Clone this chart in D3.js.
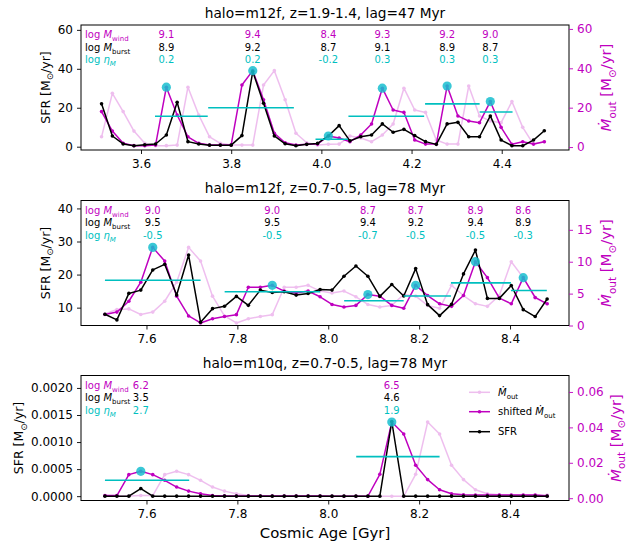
<!DOCTYPE html>
<html>
<head>
<meta charset="utf-8">
<script src="https://cdn.jsdelivr.net/npm/d3@7"></script>
<style>
  body { margin: 0; background: #fff; }
  text { font-family: "DejaVu Sans", sans-serif; }
</style>
</head>
<body>
<svg id="chart" width="627" height="547"></svg>
<script>
// ---------- snapshot time grids (Gyr) ----------
const tStartA = 3.5125, tStepA = 0.02395;   // z = 1.9-1.4
const tStartB = 7.5086, tStepB = 0.0263;    // z = 0.7-0.5
const lagStepsA = 2;                        // 47 Myr
const lagStepsB = 3;                        // 78 Myr

// ---------- halo m12f, z = 1.9-1.4 ----------
const sfrA = [22.0, 5.5, 1.4, 0.5, 1.0, 1.4, 6.0, 22.8, 2.6, 1.4,
              0.8, 0.8, 0.8, 5.7, 38.6, 22.3, 5.5, 1.5, 0.5, 1.2,
              1.7, 5.5, 10.8, 3.0, 5.1, 6.0, 11.7, 7.4, 8.9, 5.7,
              2.6, 1.2, 11.7, 12.5, 5.1, 5.1, 15.8, 3.4, 0.5, 0.5,
              3.4, 8.2];
// outflow rate per snapshot (the last two only enter the shifted curve)
const moutA = [5.2, 27.3,
              18.0, 8.1, 1.9, 0.7, 0.7, 1.0, 30.4, 16.3, 5.2, 1.9,
              1.0, 1.0, 1.0, 31.5, 38.8, 24.0, 7.0, 2.2, 1.0, 1.4,
              1.5, 5.6, 4.6, 2.7, 6.1, 11.7, 29.9, 18.8, 17.6, 3.6,
              1.5, 1.5, 31.0, 15.8, 13.2, 12.4, 23.1, 10.0, 1.4, 2.7,
              1.5, 2.7];
const peaksA = [6, 14, 21, 26, 32, 36];
const windA  = [9.1, 9.4, 8.4, 9.3, 9.2, 9.0];
const burstA = [8.9, 9.2, 8.7, 9.1, 8.9, 8.7];
const etaA   = [0.2, 0.2, -0.2, 0.3, 0.3, 0.3];
const spanStartA = [3.631, 3.749, 3.987, 4.060, 4.230, 4.351];
const spanEndA   = [3.748, 3.939, 4.059, 4.228, 4.351, 4.424];
const spanLevelA = [15.6, 20.0, 3.8, 15.6, 22.0, 17.8];

// ---------- halo m12f, z = 0.7-0.5 ----------
const sfrB = [8.0, 6.3, 14.3, 15.3, 21.4, 23.1, 13.8, 25.9, 5.6, 9.7,
              10.4, 13.4, 10.7, 15.3, 14.6, 14.8, 13.8, 14.3, 15.5, 15.3,
              19.5, 22.6, 19.5, 13.4, 17.0, 13.5, 21.8, 10.9, 7.6, 11.0,
              20.2, 27.4, 12.8, 12.8, 16.7, 9.4, 7.3, 12.6];
const moutB = [1.8, 2.5, 2.6,
              1.73, 2.1, 3.8, 6.8, 12.25, 10.1, 4.6, 1.5, 0.4, 1.06,
              1.4, 1.7, 6.0, 6.0, 6.3, 5.4, 5.1, 5.4, 4.5, 3.3,
              2.9, 3.15, 4.85, 4.6, 3.15, 2.7, 6.3, 4.7, 3.4, 3.0,
              4.7, 10.0, 7.5, 4.3, 3.4, 7.5, 4.4, 3.4];
const peaksB = [4, 14, 22, 26, 31, 35];
const windB  = [9.0, 9.0, 8.7, 8.7, 8.9, 8.6];
const burstB = [9.5, 9.5, 9.4, 9.2, 9.4, 8.9];
const etaB   = [-0.5, -0.5, -0.7, -0.5, -0.5, -0.3];
const spanStartB = [7.5086, 7.772, 8.035, 8.166, 8.270, 8.402];
const spanEndB   = [7.719, 7.982, 8.166, 8.270, 8.402, 8.481];
const spanLevelB = [18.3, 14.8, 12.1, 13.5, 17.5, 15.2];

// ---------- halo m10q, z = 0.7-0.5 ----------
const sfrC = [0, 0, 0, 0.00014, 0, 0, 0, 0, 0, 0,
              0, 0, 0, 0, 0, 0, 0, 0, 0, 0,
              0, 0, 0, 0, 0.00138, 0, 0, 0, 0, 0,
              0, 0, 0, 0, 0, 0, 0, 0];
const moutC = [0.0012, 0.0012, 0.0012,
              0.0015, 0.0015, 0.0133, 0.0152, 0.0133, 0.0101, 0.0063, 0.0040, 0.0025, 0.0015,
              0.0013, 0.0012, 0.0012, 0.0012, 0.0012, 0.0012, 0.0012, 0.0012, 0.0012, 0.0011,
              0.0011, 0.0011, 0.0011, 0.0135, 0.0430, 0.0363, 0.0186, 0.0105, 0.0048, 0.0025,
              0.0019, 0.0018, 0.0018, 0.0018, 0.0018, 0.0018, 0.0018, 0.0012];
const peaksC = [3, 24];
const windC  = [6.2, 6.5];
const burstC = [3.5, 4.6];
const etaC   = [2.7, 1.9];
const spanStartC = [7.5086, 8.0615];
const spanEndC   = [7.694, 8.245];
const spanLevelC = [0.000294, 0.00073];

// ---------- axes: limits and ticks ----------
const xLimA = [3.4669, 4.5492], xLimB = [7.4559, 8.5298];
const xTicksA = [3.6, 3.8, 4.0, 4.2, 4.4];
const xTicksB = [7.6, 7.8, 8.0, 8.2, 8.4];
const sfrLimA = [-1.7, 62.5],      moutLimA = [-1.5, 62.0];
const sfrLimB = [4.6, 42.4],       moutLimB = [0, 19.6];
const sfrLimC = [-0.00008, 0.00223], moutLimC = [-0.0013, 0.0693];
const sfrTicksA = [0, 20, 40, 60],  moutTicksA = [0, 20, 40, 60];
const sfrTicksB = [10, 20, 30, 40], moutTicksB = [0, 5, 10, 15];
const sfrTicksC = [0, 0.0005, 0.0010, 0.0015, 0.0020], moutTicksC = [0, 0.02, 0.04, 0.06];

const titles = ["halo=m12f, z=1.9-1.4, lag=47 Myr",
                "halo=m12f, z=0.7-0.5, lag=78 Myr",
                "halo=m10q, z=0.7-0.5, lag=78 Myr"];

const fixed = digits => d => d.toFixed(digits);

const panels = [
  { title: titles[0], t0: tStartA, dt: tStepA, lag: lagStepsA, sfr: sfrA, mout: moutA,
    peaks: peaksA, wind: windA, burst: burstA, eta: etaA,
    s0: spanStartA, s1: spanEndA, sl: spanLevelA,
    xlim: xLimA, xticks: xTicksA, ylimL: sfrLimA, ylimR: moutLimA,
    ticksL: sfrTicksA, ticksR: moutTicksA, fmtL: fixed(0), fmtR: fixed(0) },
  { title: titles[1], t0: tStartB, dt: tStepB, lag: lagStepsB, sfr: sfrB, mout: moutB,
    peaks: peaksB, wind: windB, burst: burstB, eta: etaB,
    s0: spanStartB, s1: spanEndB, sl: spanLevelB,
    xlim: xLimB, xticks: xTicksB, ylimL: sfrLimB, ylimR: moutLimB,
    ticksL: sfrTicksB, ticksR: moutTicksB, fmtL: fixed(0), fmtR: fixed(0) },
  { title: titles[2], t0: tStartB, dt: tStepB, lag: lagStepsB, sfr: sfrC, mout: moutC,
    peaks: peaksC, wind: windC, burst: burstC, eta: etaC,
    s0: spanStartC, s1: spanEndC, sl: spanLevelC,
    xlim: xLimB, xticks: xTicksB, ylimL: sfrLimC, ylimR: moutLimC,
    ticksL: sfrTicksC, ticksR: moutTicksC, fmtL: fixed(4), fmtR: fixed(2),
    legend: true }
];

// ---------- drawing ----------
const svg = d3.select("#chart");
const X0 = 81, X1 = 569, PH = 125;
const tops = [25, 200.5, 375.5];
const MAG = "#bf00bf", CYN = "#00bfbf", DOT = "#17becf";

// text with italic pieces and subscripts
function rich(sel, parts, size) {
  let shift = 0;
  parts.forEach(pt => {
    const target = pt.sub ? size * 0.3 : 0;
    const ts = sel.append("tspan").text(pt.t).attr("dy", target - shift);
    shift = target;
    if (pt.sub) ts.attr("font-size", size * 0.7);
    if (pt.it) ts.attr("font-style", "italic");
  });
  return sel;
}
const MDOT = "\u1E40";

panels.forEach((p, k) => {
  const top = tops[k], bot = top + PH;
  const n = p.sfr.length;
  const times = d3.range(n).map(i => p.t0 + i * p.dt);
  const faded = p.mout.slice(0, n);
  const shifted = p.mout.slice(p.lag, p.lag + n);

  const x = d3.scaleLinear().domain(p.xlim).range([X0, X1]);
  const yL = d3.scaleLinear().domain(p.ylimL).range([bot, top]);
  const yR = d3.scaleLinear().domain(p.ylimR).range([bot, top]);

  const g = svg.append("g");
  const clipId = "clip" + k;
  g.append("clipPath").attr("id", clipId).append("rect")
    .attr("x", X0).attr("y", top).attr("width", X1 - X0).attr("height", PH);
  const plot = g.append("g").attr("clip-path", `url(#${clipId})`);

  const series = [
    { vals: faded, y: yR, color: MAG, op: 0.25 },
    { vals: shifted, y: yR, color: MAG, op: 1 },
    { vals: p.sfr, y: yL, color: "#000", op: 1 }
  ];
  series.forEach(s => {
    const sg = plot.append("g").attr("opacity", s.op);
    const line = d3.line().x((d, i) => x(times[i])).y(d => s.y(d));
    sg.append("path").datum(s.vals).attr("d", line)
      .attr("fill", "none").attr("stroke", s.color).attr("stroke-width", 1.5)
      .attr("stroke-linejoin", "round");
    sg.selectAll("circle").data(s.vals).join("circle")
      .attr("cx", (d, i) => x(times[i])).attr("cy", d => s.y(d))
      .attr("r", 1.8).attr("fill", s.color);
  });

  // burst windows
  plot.selectAll("line.span").data(p.sl).join("line").attr("class", "span")
    .attr("x1", (d, i) => x(p.s0[i])).attr("x2", (d, i) => x(p.s1[i]))
    .attr("y1", d => yL(d)).attr("y2", d => yL(d))
    .attr("stroke", CYN).attr("stroke-width", 1.6);

  // outflow peaks
  plot.selectAll("circle.peak").data(p.peaks).join("circle").attr("class", "peak")
    .attr("cx", d => x(times[d])).attr("cy", d => yR(shifted[d]))
    .attr("r", 4.6).attr("fill", DOT).attr("opacity", 0.85);

  // frame
  g.append("rect").attr("x", X0).attr("y", top).attr("width", X1 - X0).attr("height", PH)
    .attr("fill", "none").attr("stroke", "#000").attr("stroke-width", 1);

  // axes
  const styleAxis = (a, color) => {
    a.select(".domain").remove();
    a.selectAll("line").attr("stroke", color).attr("stroke-width", 0.9);
    a.selectAll("text").attr("fill", color).attr("font-size", 12)
      .attr("font-family", "DejaVu Sans, sans-serif");
  };
  const ax = g.append("g").attr("transform", `translate(0,${bot})`)
    .call(d3.axisBottom(x).tickValues(p.xticks).tickFormat(fixed(1)).tickSize(4).tickPadding(5));
  styleAxis(ax, "#000");
  const axL = g.append("g").attr("transform", `translate(${X0},0)`)
    .call(d3.axisLeft(yL).tickValues(p.ticksL).tickFormat(p.fmtL).tickSize(4).tickPadding(4));
  styleAxis(axL, "#000");
  const axR = g.append("g").attr("transform", `translate(${X1},0)`)
    .call(d3.axisRight(yR).tickValues(p.ticksR).tickFormat(p.fmtR).tickSize(4).tickPadding(4));
  styleAxis(axR, MAG);

  // title
  g.append("text").attr("x", (X0 + X1) / 2).attr("y", top - 12.5)
    .attr("text-anchor", "middle").attr("dominant-baseline", "central")
    .attr("font-size", 13.7).text(p.title);

  // axis titles (bbox is in the axis group's own frame)
  const cy = top + PH / 2;
  const lb = axL.node().getBBox();
  const lx = X0 + lb.x - 12.5;
  rich(g.append("text").attr("transform", `translate(${lx},${cy}) rotate(-90)`)
      .attr("text-anchor", "middle").attr("y", 4.4).attr("font-size", 12.5),
    [{ t: "SFR [M" }, { t: "\u2299", sub: true }, { t: "/yr]" }], 12.5);
  const rb = axR.node().getBBox();
  const rx = Math.min(X1 + rb.x + rb.width + 14, 615.5);
  rich(g.append("text").attr("transform", `translate(${rx},${cy}) rotate(-90)`)
      .attr("text-anchor", "middle").attr("y", 5.2).attr("font-size", 14.9).attr("fill", MAG),
    [{ t: MDOT, it: true }, { t: "out", sub: true }, { t: " [M" }, { t: "\u2299", sub: true }, { t: "/yr]" }], 14.9);

  // burst annotations
  const rows = [top + 9.5, top + 22, top + 34.5];
  const fs = 10;
  const rowSpec = [
    { color: MAG, parts: [{ t: "log " }, { t: "M", it: true }, { t: "wind", sub: true }], vals: p.wind },
    { color: "#000", parts: [{ t: "log " }, { t: "M", it: true }, { t: "burst", sub: true }], vals: p.burst },
    { color: CYN, parts: [{ t: "log " }, { t: "\u03B7", it: true }, { t: "M", sub: true, it: true }], vals: p.eta }
  ];
  rowSpec.forEach((r, j) => {
    rich(g.append("text").attr("x", 85).attr("y", rows[j] + 3.6)
      .attr("font-size", fs).attr("fill", r.color), r.parts, fs);
    g.selectAll(null).data(r.vals).join("text")
      .attr("x", (d, i) => x(times[p.peaks[i]])).attr("y", rows[j] + 3.6)
      .attr("text-anchor", "middle").attr("font-size", fs).attr("fill", r.color)
      .text(fixed(1));
  });

  // legend
  if (p.legend) {
    const items = [
      { color: MAG, op: 0.25, parts: [{ t: MDOT, it: true }, { t: "out", sub: true }] },
      { color: MAG, op: 1, parts: [{ t: "shifted " }, { t: MDOT, it: true }, { t: "out", sub: true }] },
      { color: "#000", op: 1, parts: [{ t: "SFR" }] }
    ];
    const ly = [top + 16.8, top + 36.2, top + 56.2];
    items.forEach((it, j) => {
      const lg = g.append("g").attr("opacity", it.op);
      lg.append("line").attr("x1", 469).attr("x2", 490).attr("y1", ly[j]).attr("y2", ly[j])
        .attr("stroke", it.color).attr("stroke-width", 1.5);
      lg.append("circle").attr("cx", 479.5).attr("cy", ly[j]).attr("r", 1.8).attr("fill", it.color);
      rich(g.append("text").attr("x", 498).attr("y", ly[j] + 3.6).attr("font-size", 10), it.parts, 10);
    });
  }
});

svg.append("text").attr("x", (X0 + X1) / 2).attr("y", 533.3)
  .attr("text-anchor", "middle").attr("dominant-baseline", "central")
  .attr("font-size", 14.9).text("Cosmic Age [Gyr]");
</script>
</body>
</html>
